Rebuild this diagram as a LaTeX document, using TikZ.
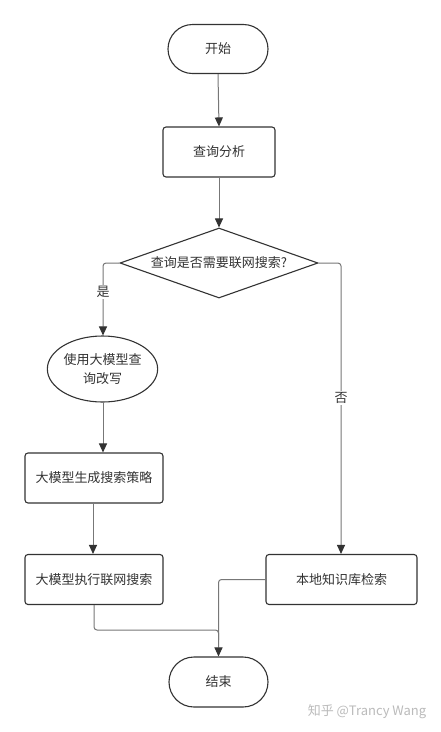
\documentclass[tikz,border=0pt]{standalone}
\usepackage{fontspec}
\setmainfont{Noto Sans CJK SC}
\usetikzlibrary{shapes.geometric,shapes.misc,arrows.meta,positioning}
\definecolor{edgec}{HTML}{333333}
\definecolor{linec}{HTML}{777777}
\definecolor{wmc}{HTML}{BBBBBB}
\begin{document}
\begin{tikzpicture}[x=1pt,y=-1pt,
  every node/.style={font=\fontsize{13}{16}\selectfont, text=black!80},
  term/.style={draw=edgec, line width=1.1pt, rounded rectangle, minimum width=100pt, minimum height=49pt, inner sep=0pt},
  procbox/.style={draw=edgec, line width=1.1pt, rounded corners=3pt, minimum width=138pt, minimum height=50pt, inner sep=0pt},
  decis/.style={draw=edgec, line width=1.1pt, diamond, aspect=2.83, minimum width=198pt, minimum height=70pt, inner sep=0pt},
  ell/.style={draw=edgec, line width=1.1pt, ellipse, minimum width=109pt, minimum height=66pt, inner sep=0pt, align=center},
  conn/.style={draw=linec, line width=1pt, rounded corners=3pt, -{Triangle[length=9pt,width=8pt,color=edgec]}},
  plain/.style={draw=linec, line width=1pt, rounded corners=3pt},
  lab/.style={fill=white, inner sep=1pt}
]
\useasboundingbox[fill=white] (0,0) rectangle (441,732);
\node[term] (start) at (218,49) {开始};
\node[procbox, minimum width=112pt] (qa) at (219,152) {查询分析};
\node[decis] (dec) at (219,263) {查询是否需要联网搜索?};
\node[ell] (rew) at (102.5,369) {使用大模型查\\[3pt]询改写};
\node[procbox] (strat) at (94,478) {大模型生成搜索策略};
\node[procbox] (exec) at (94,579.5) {大模型执行联网搜索};
\node[procbox, minimum width=151pt] (local) at (341.5,579.5) {本地知识库检索};
\node[term, minimum width=99pt, minimum height=50pt] (end) at (218.5,682) {结束};
\node[text=wmc] (wm) at (367,712) {知乎 @Trancy Wang};

\draw[conn] (start.south) -- (qa.north);
\draw[conn] (qa.south) -- (dec.north);
\draw[conn] (dec.west) -- (103,263) -- (rew.north -| 103,0);
\node[lab] (yes) at (103,292) {是};
\draw[conn] (dec.east) -- (341,263) -- (local.north -| 341,0);
\node[lab] (no) at (341,398) {否};
\draw[conn] (rew.south -| 103,0) -- (strat.north -| 103,0);
\draw[conn] (strat.south -| 93,0) -- (exec.north -| 93,0);
\draw[plain] (exec.south) -- (94,630) -- (218.5,630) -- (218.5,640);
\draw[conn] (local.west) -- (218.5,579.5) -- (end.north);
\end{tikzpicture}
\end{document}
